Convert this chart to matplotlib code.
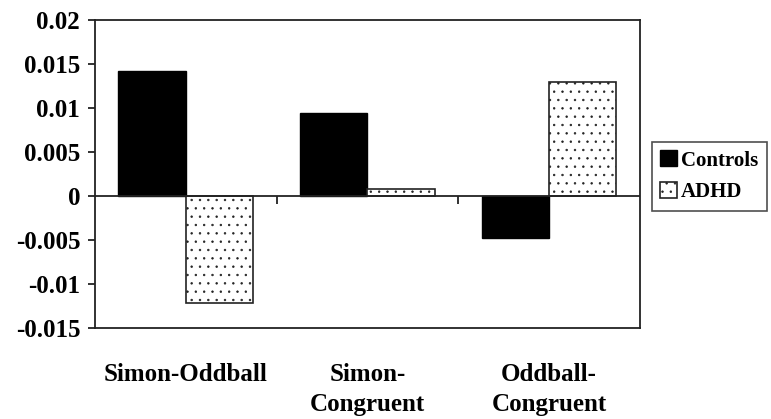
import numpy as np
import matplotlib.pyplot as plt
import matplotlib as mpl

categories = ["Simon-Oddball", "Simon-\nCongruent", "Oddball-\nCongruent"]
controls = [0.0142, 0.0094, -0.0048]
adhd = [-0.0122, 0.0008, 0.0130]
yticks = [-0.015, -0.01, -0.005, 0, 0.005, 0.01, 0.015, 0.02]
ytick_labels = ["-0.015", "-0.01", "-0.005", "0", "0.005", "0.01", "0.015", "0.02"]

mpl.rcParams['font.family'] = ['Liberation Serif', 'DejaVu Serif']
mpl.rcParams['font.weight'] = 'bold'
mpl.rcParams['hatch.linewidth'] = 0.5
mpl.rcParams['hatch.color'] = '#444444'

fig = plt.figure(figsize=(7.71, 4.19), dpi=100)
ax = fig.add_axes([0.123, 0.217, 0.707, 0.735])

x = np.arange(len(categories))
w = 0.37
ax.bar(x - w / 2, controls, w, color='black', edgecolor='black', linewidth=1, label='Controls')
ax.bar(x + w / 2, adhd, w, color='white', edgecolor='#222222', linewidth=1.2, hatch='..', label='ADHD')

ax.axhline(0, color='#222222', linewidth=1.3)
# category separator ticks on the zero axis
ax.vlines(x[:-1] + 0.5, -0.0009, 0, color='#222222', linewidth=1.3)

ax.set_xlim(-0.5, len(categories) - 0.5)
ax.set_ylim(-0.015, 0.02)
ax.set_yticks(yticks)
ax.set_yticklabels(ytick_labels, fontsize=18, fontweight='bold')
ax.set_xticks(x)
ax.set_xticklabels(categories, fontsize=18, fontweight='bold', linespacing=1.4)
ax.tick_params(axis='x', length=0, pad=25)
ax.tick_params(axis='y', length=5, width=1.3, color='#222222', pad=5.5)

for s in ax.spines.values():
    s.set_linewidth(1.3)
    s.set_color('#222222')

leg = fig.legend(loc='upper left', bbox_to_anchor=(0.8457, 0.661), fontsize=15,
                 frameon=True, fancybox=False, edgecolor='#222222',
                 handlelength=0.8, handleheight=0.8, handletextpad=0.2,
                 borderpad=0.4, labelspacing=0.55, borderaxespad=0)
leg.get_frame().set_linewidth(1.2)

fig.savefig('out.png', dpi=100)
